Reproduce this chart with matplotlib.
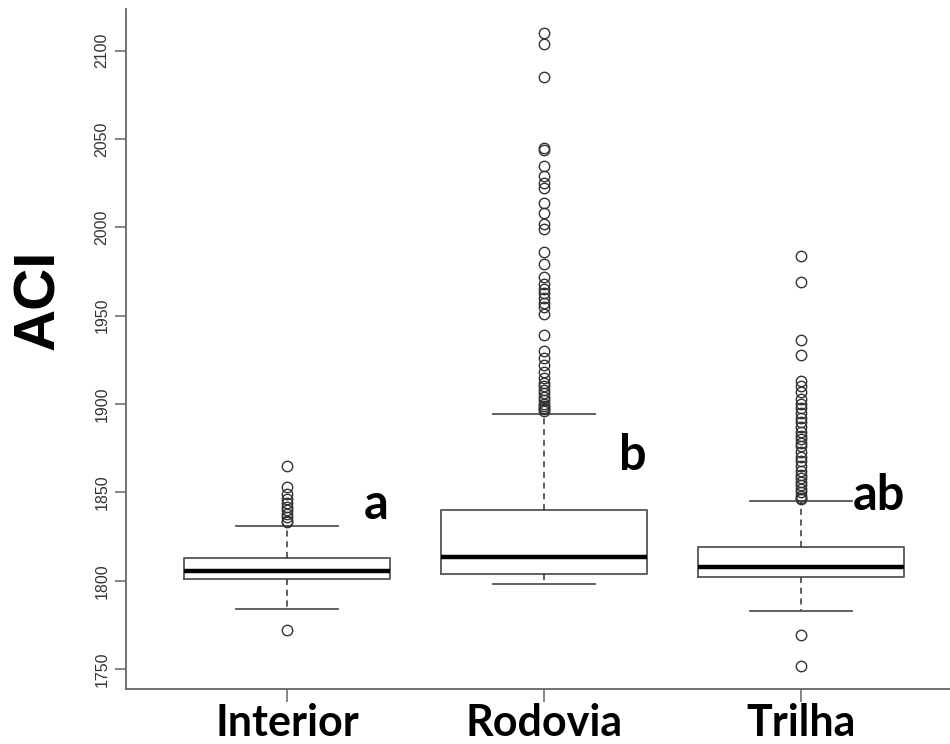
import matplotlib
matplotlib.use("Agg")
import matplotlib.pyplot as plt

# ACI por ambiente
groups = ["Interior", "Rodovia", "Trilha"]
letters = ["a", "b", "ab"]
letter_y = [1843, 1871, 1848]

q1 = [1801, 1804, 1802]
med = [1805.3, 1813.3, 1807.5]
q3 = [1812.8, 1840.2, 1819.3]
whis_lo = [1784, 1798.2, 1782.6]
whis_hi = [1831, 1894.6, 1845.3]

out_interior = [1865, 1853, 1849, 1846, 1844, 1842, 1840, 1838, 1836, 1834, 1833,
                1772]
out_rodovia = [2110, 2104, 2085, 2045, 2044, 2035, 2029, 2025, 2022, 2014, 2008,
               2002, 1999, 1986, 1979, 1972, 1968, 1965, 1963, 1960, 1957, 1955,
               1951, 1939, 1930, 1926, 1922, 1918, 1915, 1912, 1910, 1908, 1906,
               1904, 1902, 1900, 1899, 1898, 1897, 1896]
out_trilha = [1984, 1969, 1936, 1928, 1913, 1910, 1907, 1903, 1900, 1898, 1895,
              1892, 1890, 1887, 1884, 1882, 1880, 1878, 1876, 1873, 1870, 1868,
              1865, 1862, 1860, 1858, 1856, 1854, 1852, 1850, 1848, 1847, 1846,
              1769, 1752]
outliers = [out_interior, out_rodovia, out_trilha]

yticks = [1750, 1800, 1850, 1900, 1950, 2000, 2050, 2100]

stats = []
for i, g in enumerate(groups):
    stats.append(dict(label=g, q1=q1[i], med=med[i], q3=q3[i],
                      whislo=whis_lo[i], whishi=whis_hi[i], fliers=outliers[i]))

fig = plt.figure(figsize=(9.5, 7.44), dpi=100)
ax = fig.add_axes([126 / 950, 1 - 689 / 744, 1 - 126 / 950, (689 - 9) / 744])

line_col = "#555555"
ax.bxp(stats, positions=[1, 2, 3], widths=0.8, capwidths=[0.4] * 3,
       boxprops=dict(color=line_col, linewidth=1.3),
       medianprops=dict(color="black", linewidth=3.2),
       whiskerprops=dict(color="#333333", linewidth=1.1, linestyle=(0, (4, 3))),
       capprops=dict(color=line_col, linewidth=1.3),
       flierprops=dict(marker="o", markersize=7.5, markerfacecolor="none",
                       markeredgecolor="#333333", markeredgewidth=1.0))

ax.set_xlim(0.373, 3.58)
ax.set_ylim(1738.7, 2123.6)

for sp in ["top", "right"]:
    ax.spines[sp].set_visible(False)
for sp in ["left", "bottom"]:
    ax.spines[sp].set_color("#666666")
    ax.spines[sp].set_linewidth(1.3)

ax.set_yticks(yticks)
ax.set_yticklabels([str(t) for t in yticks], rotation=90, va="center",
                   fontsize=11.5, color="#333333", family="Liberation Sans")
ax.tick_params(axis="y", length=8, width=1.1, color="#666666", pad=4)

ax.set_xticks([1, 2, 3])
ax.set_xticklabels(groups, fontsize=31, fontweight="bold", family="Lato")
ax.tick_params(axis="x", length=9, width=1.1, color="#666666", pad=1)

fig.text(39 / 950, 1 - 300 / 744, "ACI", rotation=90, ha="center", va="center",
         fontsize=42, fontweight="bold", family="Liberation Sans")

# letras de significância (deslocamento à direita de cada caixa)
letter_dx = [0.30, 0.29, 0.20]
for x, (lab, y, dx) in enumerate(zip(letters, letter_y, letter_dx), start=1):
    ax.text(x + dx, y, lab, ha="left", va="center", fontsize=35,
            fontweight="bold", family="Lato")

fig.savefig("out.png", dpi=100)
